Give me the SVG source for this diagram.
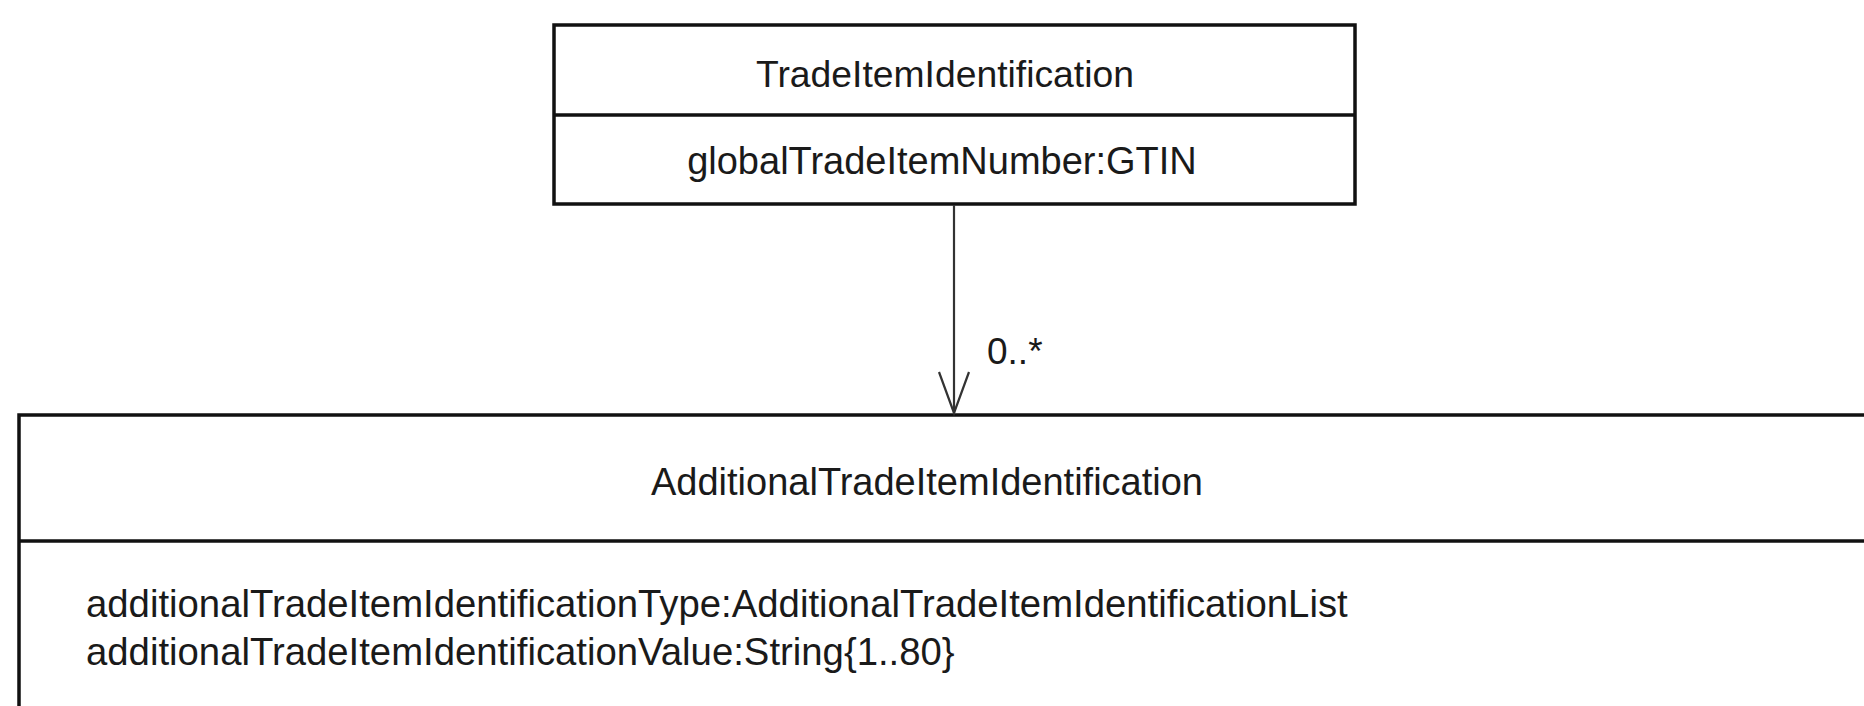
<svg xmlns="http://www.w3.org/2000/svg" width="1864" height="706" viewBox="0 0 1864 706">
<style>
.box{fill:#fff;stroke:#111;stroke-width:3.5}
.div{stroke:#111;stroke-width:3.5}
.t{font-family:"Liberation Sans",Arial,sans-serif;fill:#1a1a1a}
.conn{stroke:#333;stroke-width:2.2;fill:none}
</style>
<rect width="1864" height="706" fill="#fff"/>
<g id="TradeItemIdentification">
<rect class="box" x="554" y="25" width="801" height="179"/>
<line class="div" x1="554" y1="115" x2="1355" y2="115"/>
<text class="t" x="945" y="87" font-size="37.3" text-anchor="middle">TradeItemIdentification</text>
<text class="t" x="942" y="174" font-size="38" text-anchor="middle">globalTradeItemNumber:GTIN</text>
</g>
<g id="AdditionalTradeItemIdentification">
<rect class="box" x="19" y="415" width="1900" height="400"/>
<line class="div" x1="19" y1="541" x2="1870" y2="541"/>
<text class="t" x="927" y="495" font-size="38" text-anchor="middle">AdditionalTradeItemIdentification</text>
<text class="t" x="86" y="617" font-size="38.3">additionalTradeItemIdentificationType:AdditionalTradeItemIdentificationList</text>
<text class="t" x="86" y="665" font-size="38.3">additionalTradeItemIdentificationValue:String{1..80}</text>
</g>
<g id="connectors">
<line class="conn" x1="954" y1="205" x2="954" y2="413"/>
<polyline class="conn" points="939,372 954,413 969,372"/>
<text class="t" x="987" y="364" font-size="37">0..*</text>
</g>
</svg>
